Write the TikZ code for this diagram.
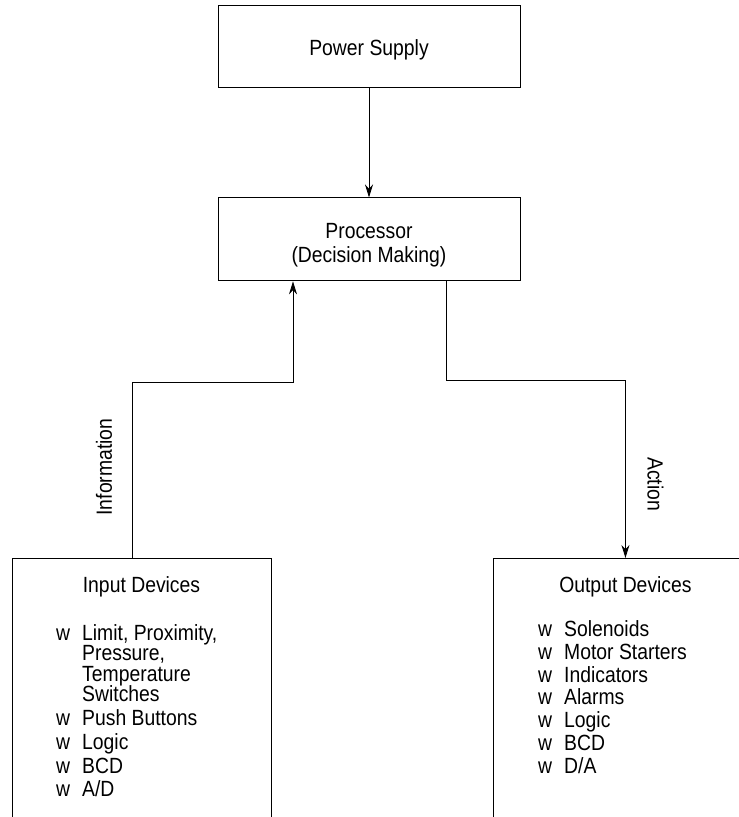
\documentclass[tikz,border=0pt]{standalone}
\usepackage{fontspec}
\setmainfont[FakeStretch=0.88]{Liberation Sans}
\usetikzlibrary{arrows.meta,positioning}
\newcommand{\bul}{\makebox[26pt][l]{w}}
\newcommand{\ind}{\hspace*{26pt}}
\newcommand{\listfont}{\fontsize{22}{20.5}\selectfont\lineskiplimit=-50pt\relax}

\begin{document}
\begin{tikzpicture}[
	x=1pt, y=-1pt,
	node distance=110pt,
	every node/.style={font=\fontsize{22}{24}\selectfont},
	block/.style={
		rectangle, draw, line width=0.9pt,
		align=center, minimum width=302pt, minimum height=82pt
	},
	devbox/.style={rectangle, draw, line width=0.9pt, minimum height=320pt, inner sep=0pt},
	title/.style={anchor=base, inner sep=0pt},
	items/.style={anchor=north west, align=left, inner sep=0pt, font=\listfont},
	arrow/.style={-{Stealth[length=13pt,width=8pt]}, line width=0.9pt}
	]
	\useasboundingbox (0,0) rectangle (739,817);
	\clip (0,0) rectangle (739,817);
	\node[block, text height=50pt, text depth=32pt, inner ysep=0pt] (power) at (369,46) {Power Supply};
	\node[block, text height=65pt, text depth=18pt, inner ysep=0pt, below=of power] (proc) {Processor\\(Decision Making)};
	\node[devbox, minimum width=259pt, anchor=north] (inbox) at (141.5,558) {};
	\node[devbox, minimum width=264pt, anchor=north west] (outbox) at (493,558) {};
	\node[title] (intitle) at ([yshift=-34pt]inbox.north) {Input Devices};
	\node[title] (outtitle) at ([yshift=-34pt]outbox.north) {Output Devices};
	\node[items] (inlist) at (56,624.3) {\bul Limit, Proximity,\\
		\ind Pressure,\\
		\ind Temperature\\
		\ind Switches\\[3.2pt]
		\bul Push Buttons\\[3.2pt]
		\bul Logic\\[3.2pt]
		\bul BCD\\[3.2pt]
		\bul A/D};
	\node[items] (outlist) at (538,620.3) {\bul Solenoids\\[2.3pt]
		\bul Motor Starters\\[2.3pt]
		\bul Indicators\\[2.3pt]
		\bul Alarms\\[2.3pt]
		\bul Logic\\[2.3pt]
		\bul BCD\\[2.3pt]
		\bul D/A};
	\node[rotate=90] (info) at (104,467) {Information};
	\node[rotate=-90] (act) at (655.5,484) {Action};
	\coordinate (ibend) at (132,382);
	\coordinate (obend) at (446,380);
	\draw[arrow] (power) -- (proc);
	\draw[arrow] ([xshift=-9.5pt]inbox.north) -- (ibend) -| ([xshift=-76pt]proc.south);
	\draw[arrow] ([xshift=77pt]proc.south) -- (obend) -| (outbox.north);
\end{tikzpicture}
\end{document}
